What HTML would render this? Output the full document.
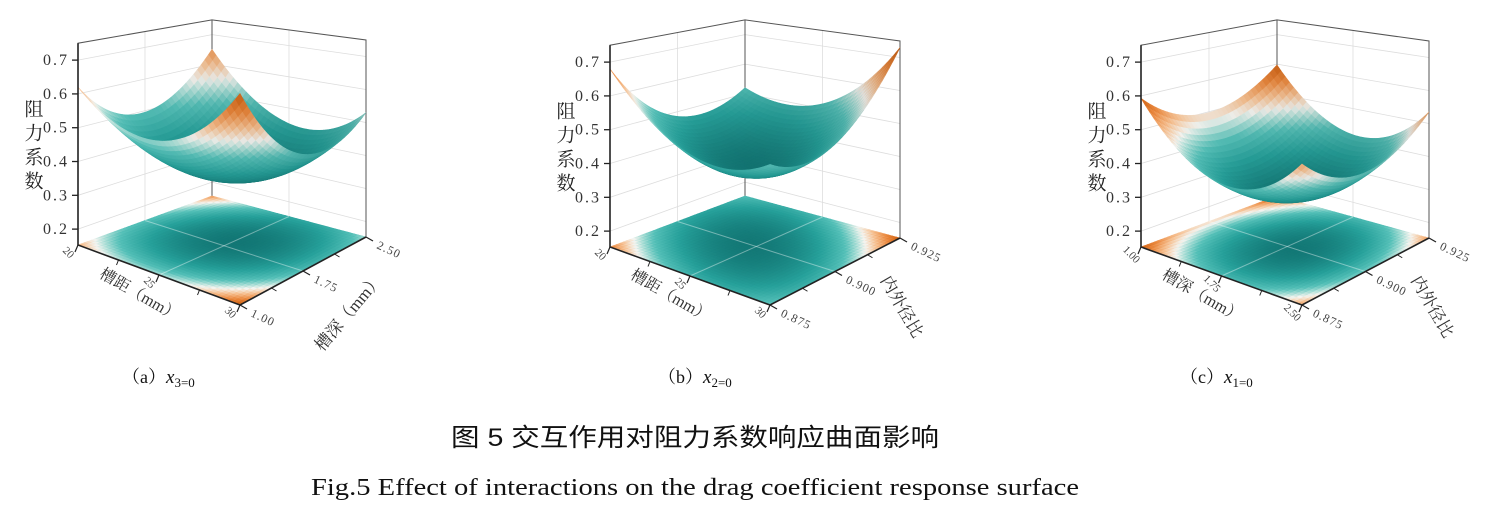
<!DOCTYPE html>
<html><head><meta charset="utf-8">
<style>
html,body{margin:0;padding:0;background:#fff;}
svg{display:block;}
</style></head>
<body>
<svg id="s" width="1488" height="518" xmlns="http://www.w3.org/2000/svg">
<rect width="1488" height="518" fill="#fff"/>
<g id="plots"></g>
<text x="122" y="383" font-family="Liberation Serif, Noto Serif CJK SC, serif" font-size="18" fill="#111">（a）<tspan font-style="italic" font-size="19">x</tspan><tspan font-size="13" dy="4">3=0</tspan></text>
<text x="658" y="383" font-family="Liberation Serif, Noto Serif CJK SC, serif" font-size="18" fill="#111">（b）<tspan font-style="italic" font-size="19">x</tspan><tspan font-size="13" dy="4">2=0</tspan></text>
<text x="1180" y="383" font-family="Liberation Serif, Noto Serif CJK SC, serif" font-size="18" fill="#111">（c）<tspan font-style="italic" font-size="19">x</tspan><tspan font-size="13" dy="4">1=0</tspan></text>
<text x="451" y="446" textLength="488" lengthAdjust="spacingAndGlyphs" font-family="Liberation Sans, Noto Sans CJK SC, sans-serif" font-size="25" fill="#111">图 5 交互作用对阻力系数响应曲面影响</text>
<text x="311" y="495" textLength="768" lengthAdjust="spacingAndGlyphs" font-family="Liberation Serif, serif" font-size="24" fill="#111">Fig.5 Effect of interactions on the drag coefficient response surface</text>
</svg>
<script>
const NS="http://www.w3.org/2000/svg";
const root=document.getElementById('plots');
function el(tag,attrs,parent,txt){const e=document.createElementNS(NS,tag);for(const k in attrs)e.setAttribute(k,attrs[k]);if(txt!==undefined)e.textContent=txt;(parent||root).appendChild(e);return e;}
const stops=[[0,[18,118,116]],[0.22,[38,160,154]],[0.4,[85,192,184]],[0.5,[170,222,214]],[0.58,[244,244,240]],[0.7,[246,192,145]],[0.84,[234,136,62]],[1,[205,95,15]]];
function col(t){if(t<=0)return stops[0][1];for(let i=1;i<stops.length;i++){if(t<=stops[i][0]){const a=stops[i-1],b=stops[i];const k=(t-a[0])/(b[0]-a[0]);return a[1].map((c,j)=>Math.round(c+(b[1][j]-c)*k));}}return stops[stops.length-1][1];}
function rgb(c){return `rgb(${c[0]},${c[1]},${c[2]})`;}
const ZF=0.153;
function panel(o){
 const g=el('g',{});
 const F=o.F,L=o.L,R=o.R,B=o.B;
 const S={F:373,L:338,R:330,B:295};
 const P=(u,v,z)=>{const wF=(1-u)*(1-v),wL=u*(1-v),wR=(1-u)*v,wB=u*v;
   const x=F[0]*wF+L[0]*wL+R[0]*wR+B[0]*wB, y=F[1]*wF+L[1]*wL+R[1]*wR+B[1]*wB;
   const sc=S.F*wF+S.L*wL+S.R*wR+S.B*wB; return [x,y-(z-ZF)*sc];};
 const f=(u,v)=>{const s=2*u-1,t=2*v-1;return o.c+o.A*s*s+o.Bq*t*t+o.C*s*t+o.D*s+o.E*t;};
 const zmin=o.c-0.005, zmax=Math.max(f(0,0),f(1,0),f(0,1),f(1,1));
 const cz=z=>col((z-zmin)/(zmax-zmin));
 const ZT=0.75;
 const B0=P(1,1,ZF),BT=P(1,1,ZT),L0=P(1,0,ZF),LT=P(1,0,ZT),R0=P(0,1,ZF),RT=P(0,1,ZT);
 for(const z of [0.2,0.3,0.4,0.5,0.6,0.7]){const a=P(1,0,z),b=P(1,1,z),c=P(0,1,z);el('polyline',{points:`${a} ${b} ${c}`,fill:'none',stroke:'#ddd','stroke-width':0.8},g);}
 {let a=P(1,0.5,ZF),b=P(1,0.5,ZT);el('line',{x1:a[0],y1:a[1],x2:b[0],y2:b[1],stroke:'#ddd','stroke-width':0.8},g);a=P(0.5,1,ZF);b=P(0.5,1,ZT);el('line',{x1:a[0],y1:a[1],x2:b[0],y2:b[1],stroke:'#ddd','stroke-width':0.8},g);}
 el('polyline',{points:`${L0} ${LT} ${BT} ${RT} ${R0}`,fill:'none',stroke:'#555','stroke-width':1},g);
 el('line',{x1:B0[0],y1:B0[1],x2:BT[0],y2:BT[1],stroke:'#555','stroke-width':1},g);
 const N=40;
 for(let i=N-1;i>=0;i--)for(let j=N-1;j>=0;j--){const u0=i/N,u1=(i+1)/N,v0=j/N,v1=(j+1)/N;const c=rgb(cz(f((u0+u1)/2,(v0+v1)/2)));
  el('polygon',{points:`${P(u0,v0,ZF)} ${P(u1,v0,ZF)} ${P(u1,v1,ZF)} ${P(u0,v1,ZF)}`,fill:c,stroke:c,'stroke-width':0.6},g);}
 let a=P(0.5,0,ZF),b=P(0.5,1,ZF);el('line',{x1:a[0],y1:a[1],x2:b[0],y2:b[1],stroke:'rgba(255,255,255,0.4)','stroke-width':1},g);
 a=P(0,0.5,ZF);b=P(1,0.5,ZF);el('line',{x1:a[0],y1:a[1],x2:b[0],y2:b[1],stroke:'rgba(255,255,255,0.4)','stroke-width':1},g);
 const M=36;const quads=[];
 for(let i=0;i<M;i++)for(let j=0;j<M;j++)quads.push([i,j]);
 quads.sort((p,q)=>(q[0]+q[1])-(p[0]+p[1]));
 for(const [i,j] of quads){const u0=i/M,u1=(i+1)/M,v0=j/M,v1=(j+1)/M;const z=f((u0+u1)/2,(v0+v1)/2);
  const cc=cz(z);const sh=0.95+0.05*((i-j)/M);const c=rgb(cc.map(x=>Math.min(255,Math.round(x*sh))));
  el('polygon',{points:`${P(u0,v0,f(u0,v0))} ${P(u1,v0,f(u1,v0))} ${P(u1,v1,f(u1,v1))} ${P(u0,v1,f(u0,v1))}`,fill:c,stroke:c,'stroke-width':0.6},g);}
 el('polyline',{points:`${P(1,0,ZT)} ${L0} ${P(0,0,ZF)} ${R0}`,fill:'none',stroke:'#222','stroke-width':1.6},g);
 const sf="Liberation Serif, serif";
 for(const z of [0.2,0.3,0.4,0.5,0.6,0.7]){const p=P(1,0,z);el('line',{x1:p[0]-6,y1:p[1],x2:p[0],y2:p[1],stroke:'#222','stroke-width':1.3},g);
  el('text',{x:p[0]-9,y:p[1]+5,'text-anchor':'end','font-family':sf,'font-size':16,fill:'#333','letter-spacing':'2'},g,z.toFixed(1));}
 el('text',{x:o.L[0]-46,y:o.L[1]-146,'font-family':'Liberation Serif, Noto Serif CJK SC, serif','font-size':19,fill:'#222','writing-mode':'tb','letter-spacing':'5'},g,'阻力系数');
 o.ul.forEach((t,k)=>{const u=1-k*0.5;const p=P(u,0,ZF);el('line',{x1:p[0],y1:p[1],x2:p[0]-3,y2:p[1]+7,stroke:'#222','stroke-width':1.2},g);
   el('text',{x:0,y:0,transform:`translate(${p[0]-12},${p[1]+10}) rotate(45)`,'text-anchor':'middle','font-family':sf,'font-size':11,fill:'#444'},g,t);});
 o.vl.forEach((t,k)=>{const v=k*0.5;const p=P(0,v,ZF);el('line',{x1:p[0],y1:p[1],x2:p[0]+7,y2:p[1]+4,stroke:'#222','stroke-width':1.2},g);
   el('text',{x:0,y:0,transform:`translate(${p[0]+10},${p[1]+11}) rotate(25)`,'font-family':sf,'font-size':12,fill:'#444','letter-spacing':'1'},g,t);});
 for(const u of [0.25,0.75]){const p=P(u,0,ZF);el('line',{x1:p[0],y1:p[1],x2:p[0]-2,y2:p[1]+5,stroke:'#222','stroke-width':1},g);const q=P(0,u,ZF);el('line',{x1:q[0],y1:q[1],x2:q[0]+5,y2:q[1]+3,stroke:'#222','stroke-width':1},g);}
 const m1=P(0.5,0,ZF),m2=P(0,0.5,ZF);
 el('text',{x:0,y:0,transform:`translate(${m1[0]-22},${m1[1]+24}) rotate(30)`,'text-anchor':'middle','font-family':'Liberation Serif, Noto Serif CJK SC, serif','font-size':16,fill:'#333'},g,o.ut);
 el('text',{x:0,y:0,transform:`translate(${m2[0]+o.vdx},${m2[1]+o.vdy}) rotate(${o.vrot})`,'text-anchor':'middle','font-family':'Liberation Serif, Noto Serif CJK SC, serif','font-size':17,fill:'#333'},g,o.vt);
}
panel({F:[240,305],L:[78,245],R:[366,237],B:[212,196],c:0.35,A:0.14,Bq:0.14,C:0.055,D:0.005,E:-0.04,
 ul:['20','25','30'],vl:['1.00','1.75','2.50'],ut:'槽距（mm）',vt:'槽深（mm）',vrot:-50,vdx:50,vdy:45});
panel({F:[770,305],L:[610,247],R:[900,238],B:[745,196],c:0.39,A:0.11,Bq:0.115,C:-0.09,D:-0.015,E:0.01,
 ul:['20','25','30'],vl:['0.875','0.900','0.925'],ut:'槽距（mm）',vt:'内外径比',vrot:60,vdx:62,vdy:38});
panel({F:[1302,305],L:[1141,247],R:[1429,238],B:[1277,196],c:0.316,A:0.15,Bq:0.098,C:0,D:0.031,E:0.002,
 ul:['1.00','1.75','2.50'],vl:['0.875','0.900','0.925'],ut:'槽深（mm）',vt:'内外径比',vrot:60,vdx:62,vdy:38});
</script>
</body></html>
